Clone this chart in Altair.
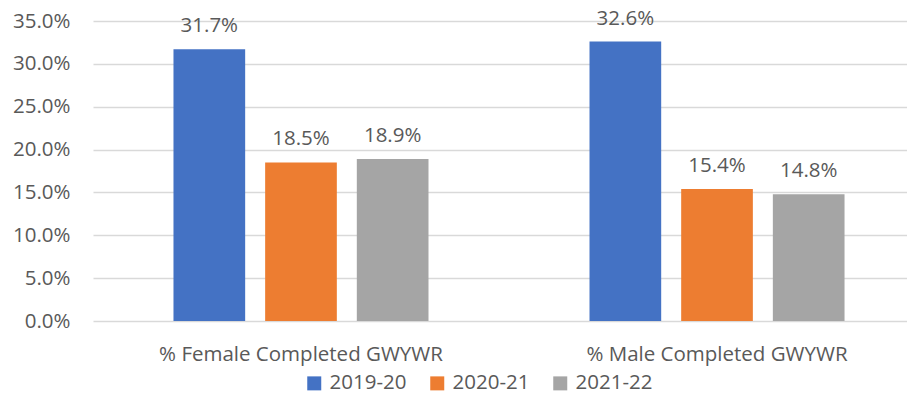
import altair as alt
import pandas as pd

categories = ["% Female Completed GWYWR", "% Male Completed GWYWR"]
years = ["2019-20", "2020-21", "2021-22"]
female_values = [31.7, 18.5, 18.9]
male_values = [32.6, 15.4, 14.8]
colors = ["#4472C4", "#ED7D31", "#A5A5A5"]

rows = []
for cat, vals in zip(categories, [female_values, male_values]):
    for yr, v in zip(years, vals):
        rows.append({"category": cat, "year": yr, "value": v / 100.0})
df = pd.DataFrame(rows)

FONT = "Open Sans"
TXT = "#595959"
FS = 20.5

base = alt.Chart(df).encode(
    x=alt.X("category:N", sort=categories, title=None,
            scale=alt.Scale(paddingInner=0.387, paddingOuter=0.1718, align=0.563),
            axis=alt.Axis(labelAngle=0, labelFontSize=FS, labelColor=TXT, labelFont=FONT,
                          labelPadding=23, labelLimit=0, ticks=False, grid=False,
                          domain=False)),
    xOffset=alt.XOffset("year:N", sort=years,
                        scale=alt.Scale(paddingInner=0.218, paddingOuter=0)),
)

bars = base.mark_bar().encode(
    y=alt.Y("value:Q", title=None,
            scale=alt.Scale(domain=[0, 0.35], nice=False),
            axis=alt.Axis(format=".1%", values=[0, 0.05, 0.10, 0.15, 0.20, 0.25, 0.30, 0.35],
                          labelFontSize=FS, labelColor=TXT, labelFont=FONT, labelPadding=23,
                          ticks=False, domain=False, gridColor="#D9D9D9", gridWidth=1.5)),
    color=alt.Color("year:N", sort=years, scale=alt.Scale(domain=years, range=colors),
                    legend=alt.Legend(title=None, orient="none", direction="horizontal",
                                      legendX=211, legendY=352, symbolType="square",
                                      symbolSize=196, symbolStrokeWidth=0,
                                      labelFontSize=FS, labelColor=TXT, labelFont=FONT,
                                      columnPadding=20, labelOffset=5)),
)

labels = base.mark_text(baseline="alphabetic", dy=-17, fontSize=FS, font=FONT, color=TXT).encode(
    y=alt.Y("value:Q"),
    text=alt.Text("value:Q", format=".1%"),
)

chart = alt.layer(bars, labels).properties(
    width=814, height=300, background="white",
    padding={"left": 4, "top": 0, "right": 0, "bottom": 0},
).configure_view(stroke=None)

chart.save("out.html", embed_options={"renderer": "svg", "actions": False})
